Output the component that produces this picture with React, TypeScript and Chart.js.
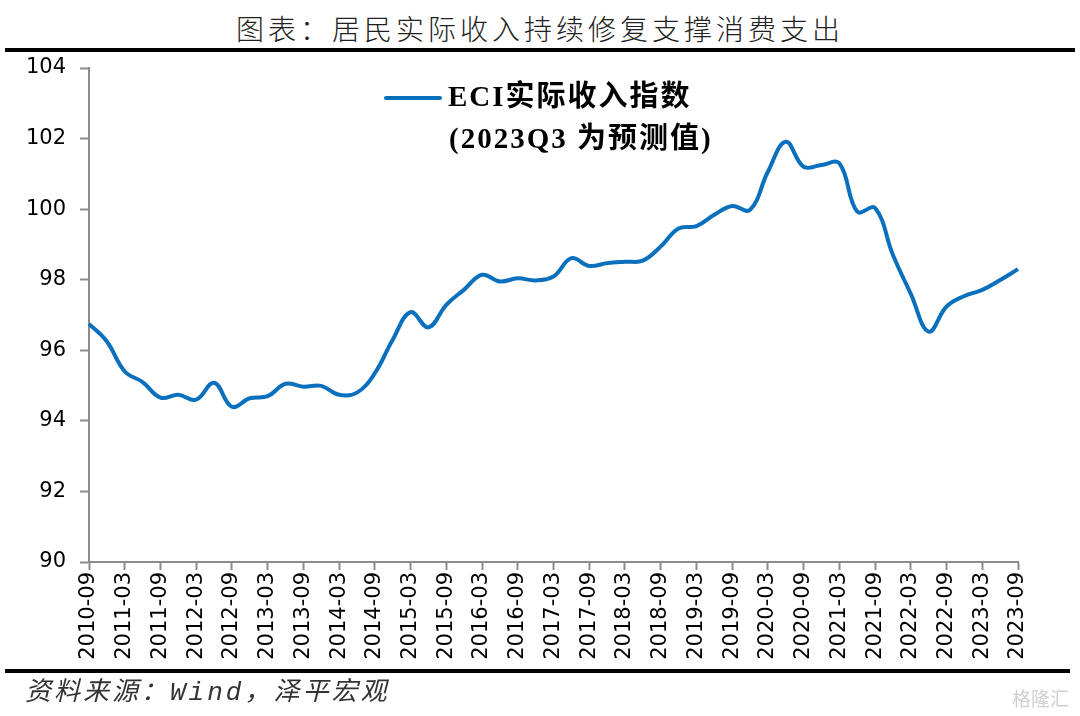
import React, { useEffect, useRef } from "react";
import { Chart, registerables } from "chart.js";

Chart.register(...registerables);

const TITLE = "图表：居民实际收入持续修复支撑消费支出";
const SOURCE = "资料来源：Wind，泽平宏观";
const SERIES_NAME = "ECI实际收入指数";
const SERIES_NOTE = "(2023Q3 为预测值)";

const QUARTERS = [
  "2010-09", "2010-12",
  "2011-03", "2011-06", "2011-09", "2011-12",
  "2012-03", "2012-06", "2012-09", "2012-12",
  "2013-03", "2013-06", "2013-09", "2013-12",
  "2014-03", "2014-06", "2014-09", "2014-12",
  "2015-03", "2015-06", "2015-09", "2015-12",
  "2016-03", "2016-06", "2016-09", "2016-12",
  "2017-03", "2017-06", "2017-09", "2017-12",
  "2018-03", "2018-06", "2018-09", "2018-12",
  "2019-03", "2019-06", "2019-09", "2019-12",
  "2020-03", "2020-06", "2020-09", "2020-12",
  "2021-03", "2021-06", "2021-09", "2021-12",
  "2022-03", "2022-06", "2022-09", "2022-12",
  "2023-03", "2023-06", "2023-09",
];

const ECI_REAL_INCOME = [
  96.75, 96.25, 95.4, 95.1, 94.66, 94.74, 94.6, 95.08, 94.4, 94.64,
  94.7, 95.05, 94.97, 94.99, 94.74, 94.8, 95.35, 96.3, 97.08, 96.65,
  97.29, 97.72, 98.14, 97.95, 98.04, 97.98, 98.09, 98.61, 98.39, 98.47,
  98.51, 98.54, 98.94, 99.45, 99.52, 99.84, 100.09, 99.98, 101.06, 101.91,
  101.2, 101.25, 101.3, 99.93, 100.03, 98.7, 97.6, 96.53, 97.24, 97.54,
  97.71, 97.99, 98.3,
];

const Y_MIN = 90;
const Y_MAX = 104;
const Y_STEP = 2;

const LINE_COLOR = "#0A70BE";
const AXIS_COLOR = "#8C8C8C";

const legendPlugin = {
  id: "customLegend",
  afterDraw(chart: any) {
    const ctx = chart.ctx;
    const ds = chart.data.datasets[0];
    ctx.save();
    ctx.strokeStyle = ds.borderColor;
    ctx.lineWidth = 4;
    ctx.lineCap = "round";
    ctx.beginPath();
    ctx.moveTo(386, 98);
    ctx.lineTo(440, 98);
    ctx.stroke();
    ctx.fillStyle = "#000";
    ctx.textBaseline = "middle";
    ctx.textAlign = "left";
    ctx.font = "bold 29px 'Liberation Serif', 'Noto Sans CJK SC', serif";
    try {
      (ctx as any).letterSpacing = "2px";
    } catch (e) {}
    ctx.fillText(ds.label, 448, 99);
    ctx.fillText(SERIES_NOTE, 449, 141);
    ctx.restore();
  },
};

export default function App() {
  const canvasRef = useRef<HTMLCanvasElement | null>(null);

  useEffect(() => {
    document.body.style.margin = "0";
    const canvas = canvasRef.current;
    if (!canvas) return;
    const chart = new Chart(canvas, {
      type: "line",
      data: {
        labels: QUARTERS,
        datasets: [
          {
            label: SERIES_NAME,
            data: ECI_REAL_INCOME,
            borderColor: LINE_COLOR,
            backgroundColor: LINE_COLOR,
            borderWidth: 4,
            pointRadius: 0,
            tension: 0.4,
            fill: false,
          },
        ],
      },
      options: {
        animation: false,
        responsive: false,
        maintainAspectRatio: false,
        layout: { padding: { left: 0, right: 62, top: 68, bottom: 44 } },
        plugins: {
          legend: { display: false },
          title: { display: false },
          tooltip: { enabled: false },
        },
        scales: {
          x: {
            type: "category",
            offset: false,
            afterFit: (scale: any) => {
              scale.height = 110;
            },
            border: { display: true, color: AXIS_COLOR, width: 2 },
            grid: {
              display: true,
              drawOnChartArea: false,
              drawTicks: true,
              tickLength: 8,
              tickWidth: 2,
              tickColor: (c: any) => (c.index % 2 === 0 ? AXIS_COLOR : "rgba(0,0,0,0)"),
            },
            ticks: {
              autoSkip: false,
              maxRotation: 90,
              minRotation: 90,
              padding: 2,
              color: "#000",
              font: { family: "'DejaVu Sans', sans-serif", size: 21 },
              callback: (_v: any, i: number) => (i % 2 === 0 ? QUARTERS[i] : ""),
            },
          },
          y: {
            min: Y_MIN,
            max: Y_MAX,
            afterFit: (scale: any) => {
              scale.width = 89;
            },
            border: { display: true, color: AXIS_COLOR, width: 2 },
            grid: {
              display: true,
              drawOnChartArea: false,
              drawTicks: true,
              tickLength: 9,
              tickWidth: 2,
              tickColor: AXIS_COLOR,
            },
            ticks: {
              stepSize: Y_STEP,
              padding: 14,
              color: "#000",
              font: { family: "'DejaVu Sans', sans-serif", size: 21 },
            },
          },
        },
      },
      plugins: [legendPlugin],
    });
    return () => chart.destroy();
  }, []);

  return (
    <div style={{ position: "relative", width: 1080, height: 716, background: "#fff", overflow: "hidden" }}>
      <div
        style={{
          position: "absolute",
          top: 8,
          left: 0,
          width: 1080,
          textAlign: "center",
          fontFamily: "'Noto Sans CJK SC', sans-serif",
          fontSize: 28,
          letterSpacing: 4,
          lineHeight: "40px",
          color: "#222",
          fontWeight: 300,
        }}
      >
        {TITLE}
      </div>
      <div style={{ position: "absolute", top: 48, left: 5, width: 1070, height: 4, background: "#000" }} />
      <canvas ref={canvasRef} width={1080} height={716} style={{ position: "absolute", top: 0, left: 0, width: 1080, height: 716 }} />
      <div style={{ position: "absolute", top: 669, left: 5, width: 1065, height: 4, background: "#000" }} />
      <div
        style={{
          position: "absolute",
          top: 676,
          left: 25,
          fontFamily: "'Liberation Mono', 'Noto Sans CJK SC', monospace",
          fontStyle: "italic",
          fontSize: 26,
          letterSpacing: 3,
          lineHeight: "34px",
          color: "#333",
        }}
      >
        {SOURCE}
      </div>
      <div
        style={{
          position: "absolute",
          top: 686,
          left: 1012,
          fontFamily: "'Noto Sans CJK SC', sans-serif",
          fontSize: 19,
          lineHeight: "24px",
          color: "#d0d0d0",
        }}
      >
        格隆汇
      </div>
    </div>
  );
}
